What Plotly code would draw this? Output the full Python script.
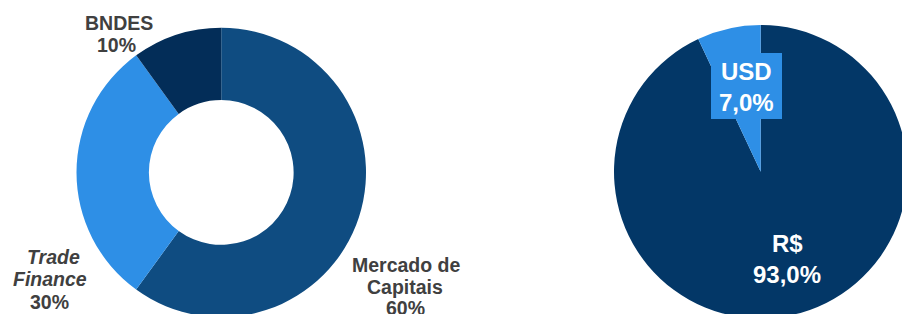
import plotly.graph_objects as go

# Left donut data
fonte_labels = ["Mercado de Capitais", "Trade Finance", "BNDES"]
fonte_values = [60, 30, 10]
fonte_colors = ["#0F4C81", "#2E8FE6", "#032D58"]

# Right pie data
moeda_labels = ["R$", "USD"]
moeda_values = [93.0, 7.0]
moeda_colors = ["#033767", "#2E8FE6"]

W, H = 910, 322


def px(x):
    return x / W


def py(y):
    return 1 - y / H


fig = go.Figure()
fig.add_trace(go.Pie(
    labels=fonte_labels, values=fonte_values, hole=0.5,
    marker=dict(colors=fonte_colors, line=dict(width=0)),
    sort=False, direction="clockwise", rotation=0,
    textinfo="none", hoverinfo="label+percent",
    domain=dict(x=[px(76.5), px(366.0)], y=[py(317.2), py(27.7)]),
    showlegend=False,
))
fig.add_trace(go.Pie(
    labels=moeda_labels, values=moeda_values,
    marker=dict(colors=moeda_colors, line=dict(width=0)),
    sort=False, direction="clockwise", rotation=0,
    textinfo="none", hoverinfo="label+percent",
    domain=dict(x=[px(614.0), px(907.4)], y=[py(318.4), py(25.0)]),
    showlegend=False,
))

FAM = "Liberation Sans, Arial"
lab_font = dict(family=FAM, size=19.5, color="#404040")


def pct(v):
    return f"{v:.0f}%"


def pct1(v):
    return f"{v:.1f}%".replace(".", ",")


def add_line(x, y, text, font):
    fig.add_annotation(x=px(x), y=py(y), xref="paper", yref="paper",
                       showarrow=False, text=text, font=font,
                       xanchor="center", yanchor="middle", align="center")


# BNDES
add_line(118.5, 23, f"<b>{fonte_labels[2]}</b>", lab_font)
add_line(116.5, 45, f"<b>{pct(fonte_values[2])}</b>", lab_font)
# Trade Finance
tf = fonte_labels[1].split(" ")
add_line(53.5, 257, f"<b><i>{tf[0]}</i></b>", lab_font)
add_line(50, 278.5, f"<b><i>{tf[1]}</i></b>", lab_font)
add_line(49.5, 302, f"<b>{pct(fonte_values[1])}</b>", lab_font)
# Mercado de Capitais
mc = fonte_labels[0].rsplit(" ", 1)
add_line(406, 265, f"<b>{mc[0]}</b>", lab_font)
add_line(404.5, 286.5, f"<b>{mc[1]}</b>", lab_font)
add_line(405, 308, f"<b>{pct(fonte_values[0])}</b>", lab_font)

# USD box
fig.add_shape(type="rect", xref="paper", yref="paper",
              x0=px(711), x1=px(782), y0=py(119), y1=py(53),
              fillcolor=moeda_colors[1], line=dict(width=0), layer="above")
w_font = dict(family=FAM, size=24, color="white")
add_line(746.5, 71.5, f"<b>{moeda_labels[1]}</b>", w_font)
add_line(746.5, 102, f"<b>{pct1(moeda_values[1])}</b>", w_font)
# R$
add_line(787, 243.5, f"<b>{moeda_labels[0]}</b>", w_font)
add_line(787, 274, f"<b>{pct1(moeda_values[0])}</b>", w_font)

fig.update_layout(
    width=W, height=H, margin=dict(l=0, r=0, t=0, b=0),
    paper_bgcolor="white", plot_bgcolor="white",
)
fig.write_html(
    "out.html",
    config={"displayModeBar": False},
    post_script="document.body.style.margin='0';document.body.style.overflow='hidden';",
)
